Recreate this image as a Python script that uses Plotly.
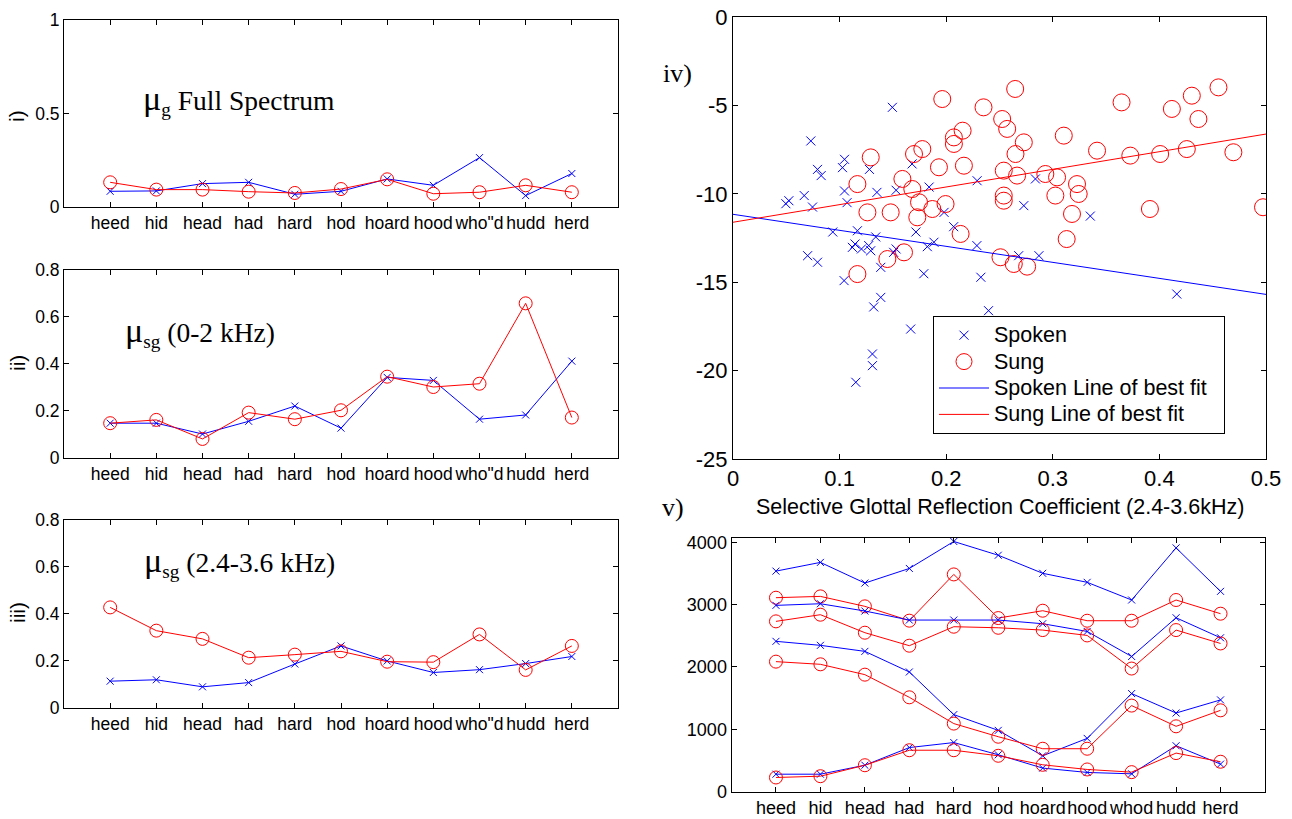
import plotly.graph_objects as go

W, H = 1292, 819

# ---------------- data ----------------
words = ["heed", "hid", "head", "had", "hard", "hod", "hoard", "hood", "who\"d", "hudd", "herd"]
words_v = ["heed", "hid", "head", "had", "hard", "hod", "hoard", "hood", "whod", "hudd", "herd"]

mu_g_spoken = [0.084, 0.086, 0.125, 0.132, 0.068, 0.084, 0.150, 0.116, 0.264, 0.061, 0.179]
mu_g_sung = [0.132, 0.093, 0.093, 0.082, 0.075, 0.096, 0.148, 0.071, 0.079, 0.116, 0.079]

mu_sg_low_spoken = [0.146, 0.146, 0.100, 0.154, 0.219, 0.125, 0.341, 0.328, 0.163, 0.181, 0.410]
mu_sg_low_sung = [0.146, 0.160, 0.079, 0.191, 0.163, 0.201, 0.344, 0.300, 0.314, 0.656, 0.170]

mu_sg_high_spoken = [0.112, 0.118, 0.088, 0.106, 0.185, 0.262, 0.198, 0.149, 0.161, 0.187, 0.217]
mu_sg_high_sung = [0.426, 0.327, 0.292, 0.212, 0.225, 0.239, 0.195, 0.193, 0.311, 0.160, 0.262]

spoken_f1 = [278, 278, 422, 706, 786, 590, 376, 306, 284, 735, 440]
spoken_f2 = [2412, 2348, 2251, 1920, 1235, 982, 574, 853, 1573, 1261, 1471]
spoken_f3 = [2990, 3016, 2899, 2754, 2754, 2754, 2695, 2571, 2169, 2791, 2469]
spoken_f4 = [3540, 3680, 3348, 3583, 4016, 3795, 3505, 3360, 3076, 3913, 3215]
sung_f1 = [225, 246, 422, 663, 663, 574, 429, 354, 311, 617, 478]
sung_f2 = [2086, 2043, 1877, 1513, 1091, 880, 687, 687, 1380, 1047, 1304]
sung_f3 = [2733, 2840, 2551, 2342, 2647, 2630, 2593, 2507, 1975, 2593, 2378]
sung_f4 = [3113, 3134, 2974, 2744, 3487, 2786, 2904, 2743, 2743, 3076, 2856]

spoken_x = [0.1495, 0.073, 0.1046, 0.1027, 0.0793, 0.0827, 0.128, 0.168, 0.1046, 0.0668,
            0.135, 0.153, 0.184, 0.229, 0.0524, 0.0496, 0.0746, 0.107, 0.198, 0.207,
            0.0936, 0.1167, 0.1339, 0.1716, 0.1885, 0.1823, 0.2288, 0.070, 0.0793, 0.112,
            0.1145, 0.1205, 0.1273, 0.1292, 0.1507, 0.153, 0.1386, 0.179, 0.2325, 0.1042,
            0.1386, 0.132, 0.2397, 0.268, 0.287, 0.2837, 0.2728, 0.3352, 0.4163, 0.1667,
            0.1308, 0.1308, 0.1152]
spoken_y = [-5.11, -7.01, -8.05, -8.52, -8.62, -8.97, -8.62, -8.31, -9.84, -10.1,
            -9.92, -9.80, -9.62, -9.26, -10.39, -10.56, -10.75, -10.5, -11.05, -11.86,
            -12.16, -12.09, -12.44, -12.16, -12.74, -12.99, -12.93, -13.5, -13.87, -13.03,
            -12.84, -13.12, -12.93, -13.22, -13.31, -13.12, -14.16, -14.52, -14.72, -14.91,
            -15.86, -16.4, -16.61, -13.5, -13.5, -9.16, -10.67, -11.26, -15.67, -17.65,
            -19.06, -19.72, -20.66]

sung_x = [0.1963, 0.235, 0.2525, 0.2572, 0.2647, 0.2154, 0.2072, 0.2072, 0.1776, 0.1698,
          0.1292, 0.1932, 0.2166, 0.254, 0.265, 0.2728, 0.1589, 0.1167, 0.1682, 0.1745,
          0.187, 0.1994, 0.254, 0.254, 0.1261, 0.1479, 0.1729, 0.2135, 0.1604, 0.1448,
          0.1167, 0.2509, 0.2634, 0.2665, 0.3103, 0.3415, 0.293, 0.304, 0.3727, 0.4007,
          0.4257, 0.4694, 0.3645, 0.4117, 0.4304, 0.4366, 0.4554, 0.3024, 0.3227, 0.3243,
          0.318, 0.3911, 0.4972, 0.313, 0.2759]
sung_y = [-4.64, -5.11, -5.77, -6.33, -4.07, -6.43, -6.81, -7.18, -7.47, -7.75,
          -7.94, -8.5, -8.41, -8.69, -7.75, -7.09, -9.16, -9.45, -9.73, -10.48,
          -10.86, -10.58, -10.1, -10.39, -11.05, -11.05, -11.33, -12.27, -13.31, -13.69,
          -14.54, -13.59, -13.97, -8.97, -6.71, -7.56, -8.88, -9.07, -7.84, -7.75,
          -7.47, -7.65, -4.83, -5.2, -4.45, -5.77, -3.98, -10.1, -9.45, -10.01,
          -11.14, -10.86, -10.76, -12.56, -14.12]

fit_x = [0.0, 0.5]
spoken_fit_y = [-11.16, -15.69]
sung_fit_y = [-11.61, -6.62]

legend_names = ["Spoken", "Sung", "Spoken Line of best fit", "Sung Line of best fit"]

# ---------------- figure ----------------
BLUE = "#0000ff"
RED = "#ff0000"
SANS = "Arial, Liberation Sans, Helvetica, sans-serif"
SERIF = "Times New Roman, Liberation Serif, serif"

fig = go.Figure()
cat_pos = list(range(1, len(words) + 1))


def add_pair(xa, ya, spoken, sung, xsize, osize):
    fig.add_trace(go.Scatter(
        x=cat_pos, y=spoken, mode="lines+markers", xaxis=xa, yaxis=ya, showlegend=False,
        line=dict(color=BLUE, width=1),
        marker=dict(symbol="x-thin-open", size=xsize, color=BLUE, line=dict(color=BLUE, width=1))))
    fig.add_trace(go.Scatter(
        x=cat_pos, y=sung, mode="lines+markers", xaxis=xa, yaxis=ya, showlegend=False,
        line=dict(color=RED, width=1),
        marker=dict(symbol="circle-open", size=osize, color=RED, line=dict(color=RED, width=1))))


add_pair("x", "y", mu_g_spoken, mu_g_sung, 7, 13)
add_pair("x2", "y2", mu_sg_low_spoken, mu_sg_low_sung, 7, 13)
add_pair("x3", "y3", mu_sg_high_spoken, mu_sg_high_sung, 7, 13)

# panel v formants
add_pair("x5", "y5", spoken_f4, sung_f4, 7, 13)
add_pair("x5", "y5", spoken_f3, sung_f3, 7, 13)
add_pair("x5", "y5", spoken_f2, sung_f2, 7, 13)
add_pair("x5", "y5", spoken_f1, sung_f1, 7, 13)


def lname(s, pad=0):
    return "<span style='font-size:21.5px'>" + s + "\u00a0" * pad + "</span>"


# panel iv scatter
fig.add_trace(go.Scatter(
    x=spoken_x, y=spoken_y, mode="markers", name=lname(legend_names[0]), xaxis="x4", yaxis="y4",
    marker=dict(symbol="x-thin-open", size=9, color=BLUE, line=dict(color=BLUE, width=1))))
fig.add_trace(go.Scatter(
    x=sung_x, y=sung_y, mode="markers", name=lname(legend_names[1]), xaxis="x4", yaxis="y4",
    marker=dict(symbol="circle-open", size=17, color=RED, line=dict(color=RED, width=1))))
fig.add_trace(go.Scatter(
    x=fit_x, y=spoken_fit_y, mode="lines", name=lname(legend_names[2], 2),
    xaxis="x4", yaxis="y4", line=dict(color=BLUE, width=1)))
fig.add_trace(go.Scatter(
    x=fit_x, y=sung_fit_y, mode="lines", name=lname(legend_names[3]), xaxis="x4", yaxis="y4",
    line=dict(color=RED, width=1)))


def fx(x):
    return x / W


def fy(y):
    return 1 - y / H


def px_x(x0, x1):
    return [fx(x0), fx(x1)]


def px_y(ytop, ybot):
    return [fy(ybot), fy(ytop)]


def axis(domain, rng, tickvals, ticktext, anchor, size):
    return dict(domain=domain, range=rng, tickvals=tickvals, ticktext=ticktext, anchor=anchor,
                showline=True, linecolor="black", linewidth=1, mirror="ticks",
                ticks="inside", ticklen=5, tickcolor="black", tickwidth=1, tickangle=0,
                showgrid=False, zeroline=False, fixedrange=True, automargin=False,
                tickfont=dict(family=SANS, size=size, color="black"))


xl = px_x(64, 618)
fig.update_layout(
    xaxis=axis(xl, [0, 12], cat_pos, words, "y", 17.5),
    yaxis=axis(px_y(20, 207), [0, 1], [0, 0.5, 1], ["0", "0.5", "1"], "x", 17.5),
    xaxis2=axis(xl, [0, 12], cat_pos, words, "y2", 17.5),
    yaxis2=axis(px_y(269.5, 457.5), [0, 0.8], [0, 0.2, 0.4, 0.6, 0.8],
                ["0", "0.2", "0.4", "0.6", "0.8"], "x2", 17.5),
    xaxis3=axis(xl, [0, 12], cat_pos, words, "y3", 17.5),
    yaxis3=axis(px_y(519.5, 707.5), [0, 0.8], [0, 0.2, 0.4, 0.6, 0.8],
                ["0", "0.2", "0.4", "0.6", "0.8"], "x3", 17.5),
    xaxis4=axis(px_x(733, 1266), [0, 0.5], [0, 0.1, 0.2, 0.3, 0.4, 0.5],
                ["0", "0.1", "0.2", "0.3", "0.4", "0.5"], "y4", 22),
    yaxis4=axis(px_y(17, 459), [-25, 0], [-25, -20, -15, -10, -5, 0],
                ["-25", "-20", "-15", "-10", "-5", "0"], "x4", 22),
    xaxis5=axis(px_x(731.5, 1265), [0, 12], cat_pos, words_v, "y5", 18),
    yaxis5=axis(px_y(537.5, 791.5), [0, 4080], [0, 1000, 2000, 3000, 4000],
                ["0", "1000", "2000", "3000", "4000"], "x5", 18),
)


def ann(text, x, y, size, family, angle=0, xanchor="center"):
    fig.add_annotation(text=text, x=fx(x), y=fy(y), xref="paper", yref="paper",
                       showarrow=False, textangle=angle, xanchor=xanchor, yanchor="middle",
                       font=dict(family=family, size=size, color="black"))


ann("i)", 17, 116, 21, SANS, -90)
ann("ii)", 17, 363, 21, SANS, -90)
ann("iii)", 17, 613, 21, SANS, -90)
ann("iv)", 677, 73, 26, SERIF)
ann("v)", 673, 507, 26, SERIF)
ann("Selective Glottal Reflection Coefficient (2.4-3.6kHz)", 1000, 507, 21.5, SANS)

mu = "<span style='font-size:34px'>\u03bc</span>"
ann(mu + "<sub>g</sub> Full Spectrum", 141, 100, 27.5, SERIF, xanchor="left")
ann(mu + "<sub>sg</sub> (0-2 kHz)", 123, 332, 27.5, SERIF, xanchor="left")
ann(mu + "<sub>sg</sub> (2.4-3.6 kHz)", 142, 562, 27.5, SERIF, xanchor="left")

fig.update_layout(
    width=W, height=H, margin=dict(l=0, r=0, t=0, b=0, autoexpand=False),
    paper_bgcolor="white", plot_bgcolor="white",
    showlegend=True,
    legend=dict(x=fx(933), y=fy(316), xanchor="left", yanchor="top",
                bgcolor="white", bordercolor="black", borderwidth=1,
                font=dict(family=SANS, size=18, color="black"),
                itemwidth=50, tracegroupgap=0),
)

# the page body carries a default 8px margin; remove it so the figure fills the window
fig.write_html("out.html", config={"displayModeBar": False},
               post_script="document.body.style.margin='0px';")
